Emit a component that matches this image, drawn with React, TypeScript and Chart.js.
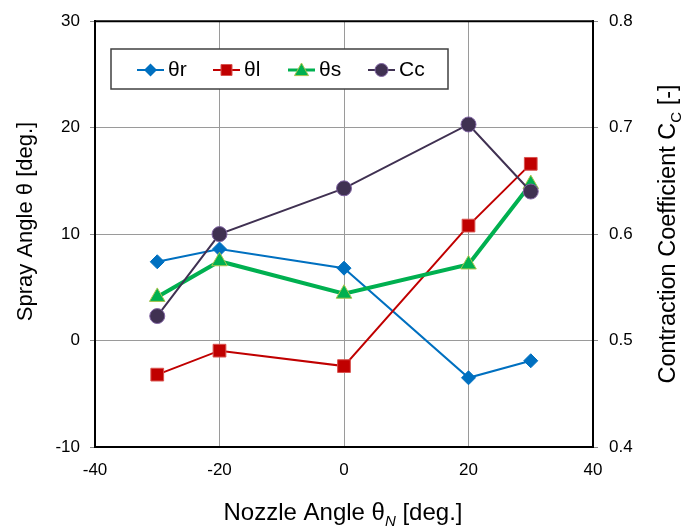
import React, { useEffect, useRef } from "react";
import { Chart, registerables } from "chart.js";

Chart.register(...registerables);

// ---- data ----
const nozzleAngles = [-30, -20, 0, 20, 30];
const thetaR = [7.4, 8.6, 6.8, -3.5, -1.9];
const thetaL = [-3.2, -0.95, -2.4, 10.8, 16.6];
const thetaS = [4.1, 7.45, 4.4, 7.15, 14.7];
const cc = [0.523, 0.6, 0.643, 0.703, 0.64];

const seriesLabels = ["θr", "θl", "θs", "Cc"];
const xRange = [-40, 40];
const leftRange = [-10, 30];
const rightRange = [0.4, 0.8];
const xStep = 20;
const leftStep = 10;
const rightStep = 0.1;

const FONT = "'Liberation Sans', Arial, sans-serif";

const COLORS = {
  r: "#0070C0",
  l: "#C00000",
  lEdge: "#D9534F",
  s: "#00B050",
  sEdge: "#A8C44E",
  c: "#403152",
  cEdge: "#8064A2",
};

function drawMarker(ctx: CanvasRenderingContext2D, kind: string, x: number, y: number) {
  ctx.save();
  ctx.beginPath();
  if (kind === "diamond") {
    const r = 6.5;
    ctx.moveTo(x, y - r);
    ctx.lineTo(x + r, y);
    ctx.lineTo(x, y + r);
    ctx.lineTo(x - r, y);
    ctx.closePath();
    ctx.fillStyle = COLORS.r;
    ctx.fill();
  } else if (kind === "square") {
    const h = 5.5;
    ctx.rect(x - h, y - h, 2 * h, 2 * h);
    ctx.fillStyle = COLORS.l;
    ctx.fill();
    ctx.strokeStyle = COLORS.lEdge;
    ctx.lineWidth = 1;
    ctx.stroke();
  } else if (kind === "triangle") {
    const r = 7;
    ctx.moveTo(x, y - r);
    ctx.lineTo(x + r, y + r * 0.8);
    ctx.lineTo(x - r, y + r * 0.8);
    ctx.closePath();
    ctx.fillStyle = COLORS.s;
    ctx.fill();
    ctx.strokeStyle = COLORS.sEdge;
    ctx.lineWidth = 1;
    ctx.stroke();
  } else {
    ctx.arc(x, y, 6.5, 0, Math.PI * 2);
    ctx.fillStyle = COLORS.c;
    ctx.fill();
    ctx.strokeStyle = COLORS.cEdge;
    ctx.lineWidth = 1;
    ctx.stroke();
  }
  ctx.restore();
}

function drawRich(
  ctx: CanvasRenderingContext2D,
  parts: { t: string; sub?: boolean; it?: boolean }[],
  size: number,
  subSize: number
) {
  const fontOf = (p: { sub?: boolean; it?: boolean }) =>
    p.sub ? `${p.it ? "italic " : ""}${subSize}px ${FONT}` : `${size}px ${FONT}`;
  const widths = parts.map((p) => {
    ctx.font = fontOf(p);
    return ctx.measureText(p.t).width;
  });
  const total = widths.reduce((a, b) => a + b, 0);
  let x = -total / 2;
  ctx.textAlign = "left";
  ctx.textBaseline = "alphabetic";
  parts.forEach((p, i) => {
    ctx.font = fontOf(p);
    ctx.fillText(p.t, x, p.sub ? size * 0.25 : 0);
    x += widths[i];
  });
}

const decorPlugin = {
  id: "decor",
  beforeDatasetsDraw(chart: any) {
    const { ctx, chartArea } = chart;
    ctx.save();
    ctx.strokeStyle = "#000";
    ctx.lineWidth = 2;
    ctx.beginPath();
    ctx.moveTo(chartArea.left, chartArea.top);
    ctx.lineTo(chartArea.right, chartArea.top);
    ctx.stroke();
    ctx.restore();
  },
  afterDraw(chart: any) {
    const { ctx, chartArea } = chart;
    ctx.save();
    ctx.fillStyle = "#000";
    // x title
    ctx.save();
    ctx.translate((chartArea.left + chartArea.right) / 2 - 1, 520);
    drawRich(ctx, [{ t: "Nozzle Angle θ" }, { t: "N", sub: true, it: true }, { t: " [deg.]" }], 24, 15);
    ctx.restore();
    // left title
    ctx.save();
    ctx.translate(32, 221.5);
    ctx.rotate(-Math.PI / 2);
    drawRich(ctx, [{ t: "Spray Angle θ [deg.]" }], 22, 15);
    ctx.restore();
    // right title
    ctx.save();
    ctx.translate(675, 234);
    ctx.rotate(-Math.PI / 2);
    drawRich(ctx, [{ t: "Contraction Coefficient C" }, { t: "C", sub: true }, { t: " [-]" }], 23.5, 15);
    ctx.restore();

    // legend
    const bx = 111, by = 49, bw = 337, bh = 40;
    ctx.fillStyle = "#fff";
    ctx.fillRect(bx, by, bw, bh);
    ctx.strokeStyle = "#404040";
    ctx.lineWidth = 1.5;
    ctx.strokeRect(bx, by, bw, bh);
    const starts = [137, 213, 288, 368];
    const kinds = ["diamond", "square", "triangle", "circle"];
    const lineColors = [COLORS.r, COLORS.l, COLORS.s, COLORS.c];
    const lineWidths = [2, 2, 3, 2];
    const cy = by + bh / 2 + 1;
    starts.forEach((sx, i) => {
      ctx.strokeStyle = lineColors[i];
      ctx.lineWidth = lineWidths[i];
      ctx.beginPath();
      ctx.moveTo(sx, cy);
      ctx.lineTo(sx + 27, cy);
      ctx.stroke();
      drawMarker(ctx, kinds[i], sx + 13.5, cy);
      ctx.fillStyle = "#000";
      ctx.font = `21px ${FONT}`;
      ctx.textAlign = "left";
      ctx.textBaseline = "middle";
      ctx.fillText(seriesLabels[i], sx + 31, cy);
    });
    ctx.restore();
  },
};

export default function App() {
  const ref = useRef<HTMLCanvasElement>(null);
  useEffect(() => {
    document.body.style.margin = "0";
    const canvas = ref.current!;
    const mk = (ys: number[]) => nozzleAngles.map((x, i) => ({ x, y: ys[i] }));
    const gridCol = (c: any) => {
      const v = c.tick && c.tick.value;
      return v === leftRange[0] || v === leftRange[1] ? "#000" : "#9a9a9a";
    };
    const chart = new Chart(canvas, {
      type: "line",
      data: {
        datasets: [
          {
            label: seriesLabels[0],
            data: mk(thetaR),
            borderColor: COLORS.r,
            backgroundColor: COLORS.r,
            pointBackgroundColor: COLORS.r,
            pointBorderColor: COLORS.r,
            borderWidth: 2,
            pointStyle: "rectRot",
            pointRadius: 7,
            pointBorderWidth: 1,
            yAxisID: "y",
            order: 3,
          },
          {
            label: seriesLabels[1],
            data: mk(thetaL),
            borderColor: COLORS.l,
            backgroundColor: COLORS.l,
            pointBackgroundColor: COLORS.l,
            pointBorderColor: COLORS.lEdge,
            borderWidth: 2,
            pointStyle: "rect",
            pointRadius: 9,
            pointBorderWidth: 1,
            yAxisID: "y",
            order: 2,
          },
          {
            label: seriesLabels[2],
            data: mk(thetaS),
            borderColor: COLORS.s,
            backgroundColor: COLORS.s,
            pointBackgroundColor: COLORS.s,
            pointBorderColor: COLORS.sEdge,
            borderWidth: 4,
            pointStyle: "triangle",
            pointRadius: 9,
            pointBorderWidth: 1,
            yAxisID: "y",
            order: 1,
          },
          {
            label: seriesLabels[3],
            data: mk(cc),
            borderColor: COLORS.c,
            backgroundColor: COLORS.c,
            pointBackgroundColor: COLORS.c,
            pointBorderColor: COLORS.cEdge,
            borderWidth: 2,
            pointStyle: "circle",
            pointRadius: 7.5,
            pointBorderWidth: 1,
            yAxisID: "y2",
            order: 0,
          },
        ],
      },
      options: {
        responsive: false,
        animation: false,
        devicePixelRatio: 1,
        layout: { padding: { top: 14, left: 0, right: 0, bottom: 0 } },
        plugins: { legend: { display: false }, tooltip: { enabled: false } },
        scales: {
          x: {
            type: "linear",
            min: xRange[0],
            max: xRange[1],
            ticks: { stepSize: xStep, font: { family: FONT, size: 17 }, color: "#000", padding: 13 },
            grid: { color: "#9a9a9a", drawTicks: false, lineWidth: 1 },
            border: { display: true, color: "#000", width: 2 },
            afterFit: (s: any) => {
              s.height = 79;
            },
          },
          y: {
            type: "linear",
            position: "left",
            min: leftRange[0],
            max: leftRange[1],
            ticks: { stepSize: leftStep, font: { family: FONT, size: 17 }, color: "#000", padding: 10 },
            grid: { color: gridCol, tickLength: 5, tickColor: "#8a8a8a", lineWidth: 1 },
            border: { display: true, color: "#000", width: 2 },
            afterFit: (s: any) => {
              s.width = 95;
            },
          },
          y2: {
            type: "linear",
            position: "right",
            min: rightRange[0],
            max: rightRange[1],
            ticks: {
              stepSize: rightStep,
              font: { family: FONT, size: 17 },
              color: "#000",
              padding: 11,
              callback: (v: any) => Number(v).toFixed(1),
            },
            grid: { drawOnChartArea: false, tickLength: 5, tickColor: "#8a8a8a" },
            border: { display: true, color: "#000", width: 2 },
            afterFit: (s: any) => {
              s.width = 93;
            },
          },
        },
      },
      plugins: [decorPlugin],
    } as any);
    return () => chart.destroy();
  }, []);
  return (
    <div style={{ width: 686, height: 526 }}>
      <canvas ref={ref} width={686} height={526} style={{ display: "block" }} />
    </div>
  );
}
